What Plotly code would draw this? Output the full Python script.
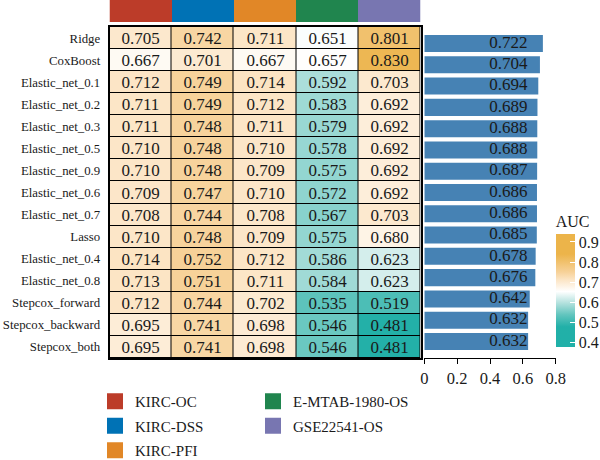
import plotly.graph_objects as go

models = ["Ridge", "CoxBoost", "Elastic_net_0.1", "Elastic_net_0.2", "Elastic_net_0.3",
          "Elastic_net_0.5", "Elastic_net_0.9", "Elastic_net_0.6", "Elastic_net_0.7", "Lasso",
          "Elastic_net_0.4", "Elastic_net_0.8", "Stepcox_forward", "Stepcox_backward", "Stepcox_both"]
cohorts = ["KIRC-OC", "KIRC-DSS", "KIRC-PFI", "E-MTAB-1980-OS", "GSE22541-OS"]
cohort_colors = ["#BC3C29", "#0072B5", "#E18727", "#20854E", "#7876B1"]

kirc_oc  = [0.705, 0.667, 0.712, 0.711, 0.711, 0.710, 0.710, 0.709, 0.708, 0.710, 0.714, 0.713, 0.712, 0.695, 0.695]
kirc_dss = [0.742, 0.701, 0.749, 0.749, 0.748, 0.748, 0.748, 0.747, 0.744, 0.748, 0.752, 0.751, 0.744, 0.741, 0.741]
kirc_pfi = [0.711, 0.667, 0.714, 0.712, 0.711, 0.710, 0.709, 0.710, 0.708, 0.709, 0.712, 0.711, 0.702, 0.698, 0.698]
emtab    = [0.651, 0.657, 0.592, 0.583, 0.579, 0.578, 0.575, 0.572, 0.567, 0.575, 0.586, 0.584, 0.535, 0.546, 0.546]
gse      = [0.801, 0.830, 0.703, 0.692, 0.692, 0.692, 0.692, 0.692, 0.703, 0.680, 0.623, 0.623, 0.519, 0.481, 0.481]
mean_auc = [0.722, 0.704, 0.694, 0.689, 0.688, 0.688, 0.687, 0.686, 0.686, 0.685, 0.678, 0.676, 0.642, 0.632, 0.632]

bar_ticks = [0, 0.2, 0.4, 0.6, 0.8]
bar_ticktext = ["0", "0.2", "0.4", "0.6", "0.8"]
cb_ticks = [0.4, 0.5, 0.6, 0.7, 0.8, 0.9]

FONT = "'Liberation Serif', 'DejaVu Serif', serif"
TXT = "#1a1a1a"
LABEL_X = 0.512

columns = [kirc_oc, kirc_dss, kirc_pfi, emtab, gse]
z = [[col[i] for col in columns] for i in range(len(models))]

ZMIN, ZMAX = 0.38, 0.94
def pos(v):
    return (v - ZMIN) / (ZMAX - ZMIN)
color_stops = [(0.38, "#20B0A8"), (0.48, "#22B0A8"), (0.54, "#62C5BE"), (0.59, "#A8DDD9"),
               (0.655, "#FFFFFF"), (0.71, "#FCE6C8"), (0.75, "#F7D29A"), (0.84, "#ECB44A"),
               (0.94, "#ECB44A")]
colorscale = [[pos(v), c] for v, c in color_stops]

fig = go.Figure()

# black background behind cells -> grid lines
fig.add_trace(go.Heatmap(z=[[0] * len(cohorts) for _ in models], x=cohorts, y=models,
                         colorscale=[[0, "black"], [1, "black"]], showscale=False,
                         hoverinfo="skip", xaxis="x", yaxis="y"))
fig.add_trace(go.Heatmap(
    z=z, x=cohorts, y=models, zmin=ZMIN, zmax=ZMAX, colorscale=colorscale,
    xgap=1, ygap=1, texttemplate="%{z:.3f}",
    textfont=dict(family=FONT, size=17, color=TXT),
    xaxis="x", yaxis="y",
    colorbar=dict(
        x=555.7 / 600, xanchor="left", xpad=0,
        y=1 - 279.4 / 460, yanchor="middle", ypad=0,
        len=135, lenmode="pixels", thickness=19, thicknessmode="pixels",
        outlinewidth=0, tickvals=cb_ticks, ticktext=[f"{v:.1f}" for v in cb_ticks],
        ticks="inside", tickcolor="white", ticklen=5, tickwidth=1,
        tickfont=dict(family=FONT, size=16, color=TXT),
        title=dict(text="AUC", side="top", font=dict(family=FONT, size=16, color=TXT)),
    ),
))

# header colour strip
n = len(cohorts)
hdr_scale = []
for i, c in enumerate(cohort_colors):
    hdr_scale.append([i / n, c])
    hdr_scale.append([(i + 1) / n, c])
fig.add_trace(go.Heatmap(z=[list(range(n))], x=cohorts, y=["group"], zmin=-0.5, zmax=n - 0.5,
                         colorscale=hdr_scale, showscale=False, hoverinfo="skip",
                         xaxis="x2", yaxis="y2"))

# bars
fig.add_trace(go.Bar(x=mean_auc, y=models, orientation="h", width=0.8,
                     marker=dict(color="#4682B4", line=dict(width=0)),
                     xaxis="x3", yaxis="y3", showlegend=False))
fig.add_trace(go.Scatter(x=[LABEL_X] * len(models), y=models, mode="text",
                         text=[f"{v:.3f}" for v in mean_auc],
                         textfont=dict(family=FONT, size=17, color=TXT),
                         xaxis="x3", yaxis="y3", showlegend=False, hoverinfo="skip"))

# legend entries
for i, (name, col) in enumerate(zip(cohorts, cohort_colors)):
    fig.add_trace(go.Scatter(x=[None], y=[None], mode="markers", name=name,
                             marker=dict(symbol="square", size=16, color=col),
                             legendgroup=name, showlegend=True,
                             legend="legend" if i < 3 else "legend2",
                             xaxis="x3", yaxis="y3"))

HX = [109.5 / 600, 420.5 / 600]
HY = [1 - 358 / 460, 1 - 27 / 460]
leg_common = dict(font=dict(family=FONT, size=15, color=TXT), tracegroupgap=2,
                  bgcolor="rgba(0,0,0,0)", xanchor="left", yanchor="top",
                  itemsizing="trace", traceorder="grouped")

fig.update_layout(
    width=600, height=460, margin=dict(l=0, r=0, t=0, b=0, autoexpand=False),
    paper_bgcolor="white", plot_bgcolor="white",
    font=dict(family=FONT, color=TXT),
    xaxis=dict(domain=HX, anchor="y", showticklabels=False, ticks="", showgrid=False,
               zeroline=False, showline=True, mirror=True, linecolor="black", linewidth=1.5,
               range=[-0.5, 4.5]),
    yaxis=dict(domain=HY, anchor="x", autorange="reversed", showgrid=False, zeroline=False,
               ticks="", ticklabelstandoff=5,
               tickfont=dict(family=FONT, size=12.8, color=TXT),
               showline=True, mirror=True, linecolor="black", linewidth=1.5),
    xaxis2=dict(domain=HX, anchor="y2", visible=False, range=[-0.5, 4.5]),
    yaxis2=dict(domain=[1 - 22 / 460, 1], anchor="x2", visible=False),
    xaxis3=dict(domain=[424.3 / 600, 555.7 / 600], anchor="y3", range=[0, 0.8],
                tickvals=bar_ticks, ticktext=bar_ticktext, showgrid=False, zeroline=False,
                showline=True, linecolor="black", linewidth=1, ticks="outside",
                ticklen=5, tickcolor="black", tickwidth=1,
                tickfont=dict(family=FONT, size=16.5, color=TXT)),
    yaxis3=dict(domain=HY, anchor="x3", autorange="reversed", visible=False,
                categoryorder="array", categoryarray=models),
    legend=dict(x=95 / 600, y=1 - 385 / 460, **leg_common),
    legend2=dict(x=253 / 600, y=1 - 385 / 460, **leg_common),
    showlegend=True,
)

fig.write_html("out.html")
